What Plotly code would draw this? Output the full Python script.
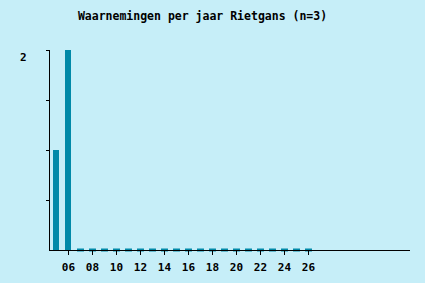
import plotly.graph_objects as go

years = list(range(2005, 2027))
counts = [1, 2] + [0] * 20
tick_years = list(range(2006, 2027, 2))
tick_labels = ["%02d" % (y % 100) for y in tick_years]
title = "Waarnemingen per jaar Rietgans (n=3)"

BG = "#C6EEF8"
BAR = "#0089A8"
FONT = "DejaVu Sans Mono"

zero_years = [y for y, c in zip(years, counts) if c == 0]
zero_vals = [0 for _ in zero_years]

fig = go.Figure()
fig.add_trace(go.Bar(x=years, y=counts, marker=dict(color=BAR, line=dict(width=0)),
                     width=0.5, hoverinfo="x+y"))
fig.add_trace(go.Scatter(x=zero_years, y=zero_vals, mode="markers",
                         marker=dict(symbol="line-ew", size=5, line=dict(color=BAR, width=3)),
                         hoverinfo="skip", cliponaxis=False))

fig.update_layout(
    width=425, height=283,
    margin=dict(l=50, r=15, t=50, b=33, autoexpand=False),
    paper_bgcolor=BG, plot_bgcolor=BG,
    showlegend=False,
    font=dict(family=FONT, size=11, color="black"),
    title=dict(text="<b>" + title + "</b>", x=202.5 / 425, xanchor="center",
               y=1 - 16 / 283, yanchor="middle", xref="container", yref="container",
               font=dict(family=FONT, size=11.5, color="black")),
    bargap=0,
)

fig.update_xaxes(range=[2004.46, 2034.46], tickvals=tick_years, ticktext=tick_labels,
                 ticks="outside", ticklen=4, tickwidth=1, tickcolor="black",
                 showline=True, linecolor="black", linewidth=1,
                 showgrid=False, zeroline=False, automargin=False,
                 tickfont=dict(family=FONT, size=11, color="black", weight="bold"),
                 ticklabelstandoff=3)
fig.update_yaxes(range=[0, 2], tickvals=[0.5, 1, 1.5, 2], ticktext=["", "", "", ""],
                 ticks="outside", ticklen=3, tickwidth=1, tickcolor="black",
                 showline=True, linecolor="black", linewidth=1,
                 showgrid=False, zeroline=False, automargin=False)

fig.add_annotation(text="<b>2</b>", xref="paper", yref="y", x=(23 - 50) / 360,
                   xanchor="center", y=2, yshift=-7, showarrow=False,
                   font=dict(family=FONT, size=11, color="black"))

fig.write_html("out.html")
